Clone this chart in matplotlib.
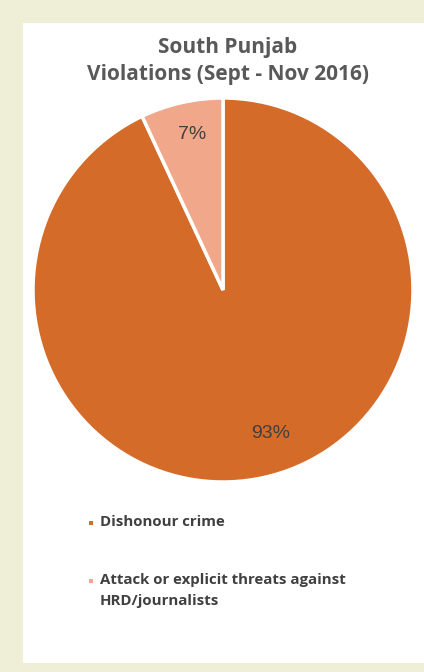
import matplotlib
matplotlib.use("Agg")
import matplotlib.pyplot as plt
from matplotlib.patches import Rectangle

title = "South Punjab\nViolations (Sept - Nov 2016)"
categories = ["Dishonour crime", "Attack or explicit threats against\nHRD/journalists"]
shares = [93, 7]
colors = ["#D46B29", "#F1A78A"]

fig = plt.figure(figsize=(4.24, 6.72), dpi=100)
fig.patch.set_facecolor("#EFEED6")

# white panel behind the chart
panel = Rectangle((23 / 424, 9 / 672), 1 - 23 / 424, (663 - 23) / 672,
                  transform=fig.transFigure, facecolor="white",
                  edgecolor="none", zorder=-1)
fig.patches.append(panel)

fig.text(228 / 424, 1 - 61 / 672, title, ha="center", va="center",
         fontsize=15, fontweight="bold", family="Open Sans", color="#595959",
         linespacing=1.4)

ax = fig.add_axes([33 / 424, 1 - 482 / 672, 380 / 424, 384 / 672])
ax.set_zorder(1)
ax.patch.set_alpha(0)
wedges, texts = ax.pie(shares, colors=colors, startangle=90, counterclock=False,
                       wedgeprops=dict(edgecolor="white", linewidth=2.5))
ax.set_xlim(-1, 1)
ax.set_ylim(-1, 1)
ax.set_aspect("auto")

# percentage labels inside each slice
label_pos = [(0.25, -0.75), (-0.16, 0.81)]
for val, (x, y) in zip(shares, label_pos):
    ax.text(x, y, f"{val}%", ha="center", va="center", fontsize=14,
            family="Liberation Sans", color="#404040")

# legend drawn by hand, one entry per slice (y of first text line)
legend_y = [523, 581]
for cat, col, y in zip(categories, colors, legend_y):
    fig.patches.append(Rectangle((89 / 424, 1 - (y + 2) / 672), 4 / 424, 4 / 672,
                                 transform=fig.transFigure, facecolor=col,
                                 edgecolor="none", zorder=2))
    fig.text(100 / 424, 1 - (y - 8) / 672, cat, ha="left", va="top", fontsize=10.8,
             fontweight="bold", family="Open Sans", color="#404040",
             linespacing=1.65)

fig.savefig("out.png", dpi=100, facecolor=fig.get_facecolor())
